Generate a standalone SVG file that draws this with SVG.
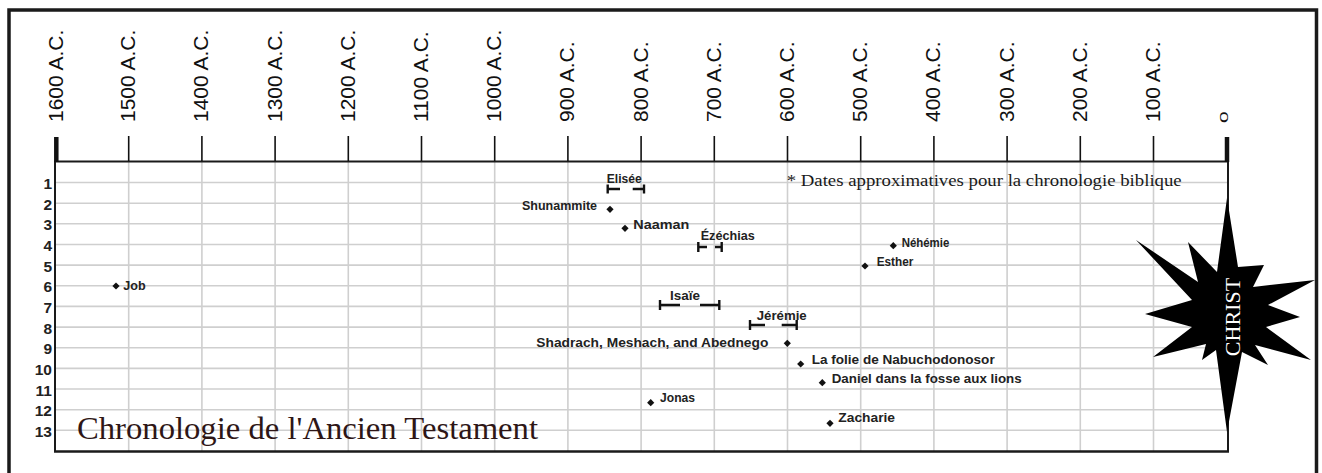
<svg xmlns="http://www.w3.org/2000/svg" width="1322" height="473" viewBox="0 0 1322 473">
<style>
.yr{font-family:"Liberation Sans",Arial,sans-serif;font-size:21px;fill:#111}
.rn{font-family:"Liberation Sans",Arial,sans-serif;font-size:15.5px;font-weight:bold;fill:#222;text-anchor:end}
.lb{font-family:"Liberation Sans",Arial,sans-serif;font-size:13.5px;font-weight:bold;fill:#222}
.grid{stroke:#cfcfcf;stroke-width:1.6;fill:none}
.tick{stroke:#111;stroke-width:1.6}
.brk{stroke:#111;stroke-width:2.4;fill:none}
.dot{fill:#111}
</style>
<defs>
<path id="dm" d="M0,-3.6 L3.6,0 L0,3.6 L-3.6,0 Z"/>
</defs>
<rect width="1322" height="473" fill="#fff"/>
<!-- outer frame -->
<path d="M9,473 V10 H1316.5 V473" fill="none" stroke="#1a1a1a" stroke-width="3.5"/>

<!-- grid -->
<g id="grid">
<g class="grid">
<line x1="55" y1="182.5" x2="1228" y2="182.5"/>
<line x1="55" y1="203.2" x2="1228" y2="203.2"/>
<line x1="55" y1="223.8" x2="1228" y2="223.8"/>
<line x1="55" y1="244.5" x2="1228" y2="244.5"/>
<line x1="55" y1="265.1" x2="1228" y2="265.1"/>
<line x1="55" y1="285.8" x2="1228" y2="285.8"/>
<line x1="55" y1="306.4" x2="1228" y2="306.4"/>
<line x1="55" y1="327.1" x2="1228" y2="327.1"/>
<line x1="55" y1="347.7" x2="1228" y2="347.7"/>
<line x1="55" y1="368.4" x2="1228" y2="368.4"/>
<line x1="55" y1="389" x2="1228" y2="389"/>
<line x1="55" y1="409.7" x2="1228" y2="409.7"/>
<line x1="55" y1="430.3" x2="1228" y2="430.3"/>
<line x1="128.7" y1="161" x2="128.7" y2="452"/>
<line x1="201.9" y1="161" x2="201.9" y2="452"/>
<line x1="275.1" y1="161" x2="275.1" y2="452"/>
<line x1="348.3" y1="161" x2="348.3" y2="452"/>
<line x1="421.5" y1="161" x2="421.5" y2="452"/>
<line x1="494.7" y1="161" x2="494.7" y2="452"/>
<line x1="567.9" y1="161" x2="567.9" y2="452"/>
<line x1="641.1" y1="161" x2="641.1" y2="452"/>
<line x1="714.3" y1="161" x2="714.3" y2="452"/>
<line x1="787.5" y1="161" x2="787.5" y2="452"/>
<line x1="860.7" y1="161" x2="860.7" y2="452"/>
<line x1="933.9" y1="161" x2="933.9" y2="452"/>
<line x1="1007.1" y1="161" x2="1007.1" y2="452"/>
<line x1="1080.3" y1="161" x2="1080.3" y2="452"/>
<line x1="1153.5" y1="161" x2="1153.5" y2="452"/>
</g>
<!-- chart border -->
<path d="M55,161.5 H1228 M55,160.5 V452 M1228,161 V452" stroke="#1a1a1a" stroke-width="2" fill="none"/>
<line x1="54" y1="451.5" x2="1229" y2="451.5" stroke="#1a1a1a" stroke-width="2.5"/>
</g>

<!-- axis -->
<g id="axis">
<g class="tick">
<line x1="128.7" y1="136" x2="128.7" y2="161"/>
<line x1="201.9" y1="136" x2="201.9" y2="161"/>
<line x1="275.1" y1="136" x2="275.1" y2="161"/>
<line x1="348.3" y1="136" x2="348.3" y2="161"/>
<line x1="421.5" y1="136" x2="421.5" y2="161"/>
<line x1="494.7" y1="136" x2="494.7" y2="161"/>
<line x1="567.9" y1="136" x2="567.9" y2="161"/>
<line x1="641.1" y1="136" x2="641.1" y2="161"/>
<line x1="714.3" y1="136" x2="714.3" y2="161"/>
<line x1="787.5" y1="136" x2="787.5" y2="161"/>
<line x1="860.7" y1="136" x2="860.7" y2="161"/>
<line x1="933.9" y1="136" x2="933.9" y2="161"/>
<line x1="1007.1" y1="136" x2="1007.1" y2="161"/>
<line x1="1080.3" y1="136" x2="1080.3" y2="161"/>
<line x1="1153.5" y1="136" x2="1153.5" y2="161"/>
</g>
<line x1="56.3" y1="137" x2="56.3" y2="162" stroke="#111" stroke-width="4.5"/>
<line x1="1227" y1="137" x2="1227" y2="162" stroke="#111" stroke-width="4.5"/>
<text class="yr" transform="translate(62.5,122) rotate(-90)">1600 A.C.</text>
<text class="yr" transform="translate(135.2,122) rotate(-90)">1500 A.C.</text>
<text class="yr" transform="translate(208.4,122) rotate(-90)">1400 A.C.</text>
<text class="yr" transform="translate(281.6,122) rotate(-90)">1300 A.C.</text>
<text class="yr" transform="translate(354.8,122) rotate(-90)">1200 A.C.</text>
<text class="yr" transform="translate(428,122) rotate(-90)">1100 A.C.</text>
<text class="yr" transform="translate(501.2,122) rotate(-90)">1000 A.C.</text>
<text class="yr" transform="translate(574.4,122) rotate(-90)">900 A.C.</text>
<text class="yr" transform="translate(647.6,122) rotate(-90)">800 A.C.</text>
<text class="yr" transform="translate(720.8,122) rotate(-90)">700 A.C.</text>
<text class="yr" transform="translate(794,122) rotate(-90)">600 A.C.</text>
<text class="yr" transform="translate(867.2,122) rotate(-90)">500 A.C.</text>
<text class="yr" transform="translate(940.4,122) rotate(-90)">400 A.C.</text>
<text class="yr" transform="translate(1013.6,122) rotate(-90)">300 A.C.</text>
<text class="yr" transform="translate(1086.8,122) rotate(-90)">200 A.C.</text>
<text class="yr" transform="translate(1160,122) rotate(-90)">100 A.C.</text>
<text class="yr" transform="translate(1228,123) rotate(-90) scale(1,0.55)">0</text>
</g>

<!-- row numbers -->
<g id="rows">
<text class="rn" x="52" y="189">1</text>
<text class="rn" x="52" y="209.7">2</text>
<text class="rn" x="52" y="230.3">3</text>
<text class="rn" x="52" y="251">4</text>
<text class="rn" x="52" y="271.6">5</text>
<text class="rn" x="52" y="292.3">6</text>
<text class="rn" x="52" y="312.9">7</text>
<text class="rn" x="52" y="333.6">8</text>
<text class="rn" x="52" y="354.2">9</text>
<text class="rn" x="52" y="374.9">10</text>
<text class="rn" x="52" y="395.5">11</text>
<text class="rn" x="52" y="416.2">12</text>
<text class="rn" x="52" y="436.8">13</text>
</g>

<!-- events -->
<g id="elisee">
<text class="lb" x="606.7" y="183" textLength="35" lengthAdjust="spacingAndGlyphs">Elisée</text>
<path class="brk" d="M607.7,184.5 V193.5 M607.7,189 H620 M632.7,189 H644 M644,184.5 V193.5"/>
</g>
<g id="shunammite">
<use href="#dm" class="dot" x="610" y="209.3"/>
<text class="lb" x="597" y="210" text-anchor="end" textLength="75" lengthAdjust="spacingAndGlyphs">Shunammite</text>
</g>
<g id="naaman">
<use href="#dm" class="dot" x="625" y="228.3"/>
<text class="lb" x="633.3" y="228.5" textLength="56" lengthAdjust="spacingAndGlyphs">Naaman</text>
</g>
<g id="ezechias">
<text class="lb" x="700.7" y="240" textLength="54" lengthAdjust="spacingAndGlyphs">Ézéchias</text>
<path class="brk" d="M698.3,242 V252 M698.3,247 H707 M715,247 H721.7 M721.7,242 V252"/>
</g>
<g id="nehemie">
<use href="#dm" class="dot" x="893.3" y="245.7"/>
<text class="lb" x="901.7" y="247" textLength="47.6" lengthAdjust="spacingAndGlyphs">Néhémie</text>
</g>
<g id="esther">
<use href="#dm" class="dot" x="865" y="266"/>
<text class="lb" x="876.7" y="266" textLength="36.6" lengthAdjust="spacingAndGlyphs">Esther</text>
</g>
<g id="job">
<use href="#dm" class="dot" x="116" y="286"/>
<text class="lb" x="123.3" y="290" textLength="22.4" lengthAdjust="spacingAndGlyphs">Job</text>
</g>
<g id="isaie">
<text class="lb" x="670" y="300" textLength="30" lengthAdjust="spacingAndGlyphs">Isaïe</text>
<path class="brk" d="M660,300 V310 M660,305 H680 M700,305 H719.3 M719.3,300 V310"/>
</g>
<g id="jeremie">
<text class="lb" x="756.7" y="320" textLength="50" lengthAdjust="spacingAndGlyphs">Jérémie</text>
<path class="brk" d="M750,320 V330 M750,325 H765 M781.7,325 H796.7 M796.7,320 V330"/>
</g>
<g id="shadrach">
<use href="#dm" class="dot" x="787.3" y="343.3"/>
<text class="lb" x="768.3" y="347" text-anchor="end" textLength="232" lengthAdjust="spacingAndGlyphs">Shadrach, Meshach, and Abednego</text>
</g>
<g id="nabuchodonosor">
<use href="#dm" class="dot" x="800.7" y="364"/>
<text class="lb" x="811.7" y="364" textLength="183" lengthAdjust="spacingAndGlyphs">La folie de Nabuchodonosor</text>
</g>
<g id="daniel">
<use href="#dm" class="dot" x="822.3" y="382.7"/>
<text class="lb" x="831.7" y="383" textLength="190" lengthAdjust="spacingAndGlyphs">Daniel dans la fosse aux lions</text>
</g>
<g id="jonas">
<use href="#dm" class="dot" x="650.7" y="402.7"/>
<text class="lb" x="660" y="402" textLength="35" lengthAdjust="spacingAndGlyphs">Jonas</text>
</g>
<g id="zacharie">
<use href="#dm" class="dot" x="830" y="423.3"/>
<text class="lb" x="838.3" y="422" textLength="56.7" lengthAdjust="spacingAndGlyphs">Zacharie</text>
</g>

<!-- notes and title -->
<g id="note">
<text x="786.7" y="186" font-family="'Liberation Serif','Times New Roman',serif" font-size="17" fill="#1a1a1a" textLength="395" lengthAdjust="spacingAndGlyphs">* Dates approximatives pour la chronologie biblique</text>
</g>
<g id="title">
<text x="77" y="439" font-family="'Liberation Serif','Times New Roman',serif" font-size="32.5" fill="#2e1616" textLength="461" lengthAdjust="spacingAndGlyphs">Chronologie de l'Ancien Testament</text>
</g>

<!-- Christ star -->
<g id="christ">
<polygon fill="#000" points="1227,198 1238,267 1264,265 1253,287 1315,280 1268,305 1300,317 1266,327 1311,360 1255,345 1268,365 1242,352 1227,432 1216,350 1202,360 1206,344 1153,357 1192,327 1145,314 1192,300 1136,240 1198,282 1188,242 1217,272"/>
<text transform="translate(1240,317) rotate(-90)" text-anchor="middle" font-family="'Liberation Serif','Times New Roman',serif" font-size="22" fill="#fff">CHRIST</text>
</g>
</svg>
